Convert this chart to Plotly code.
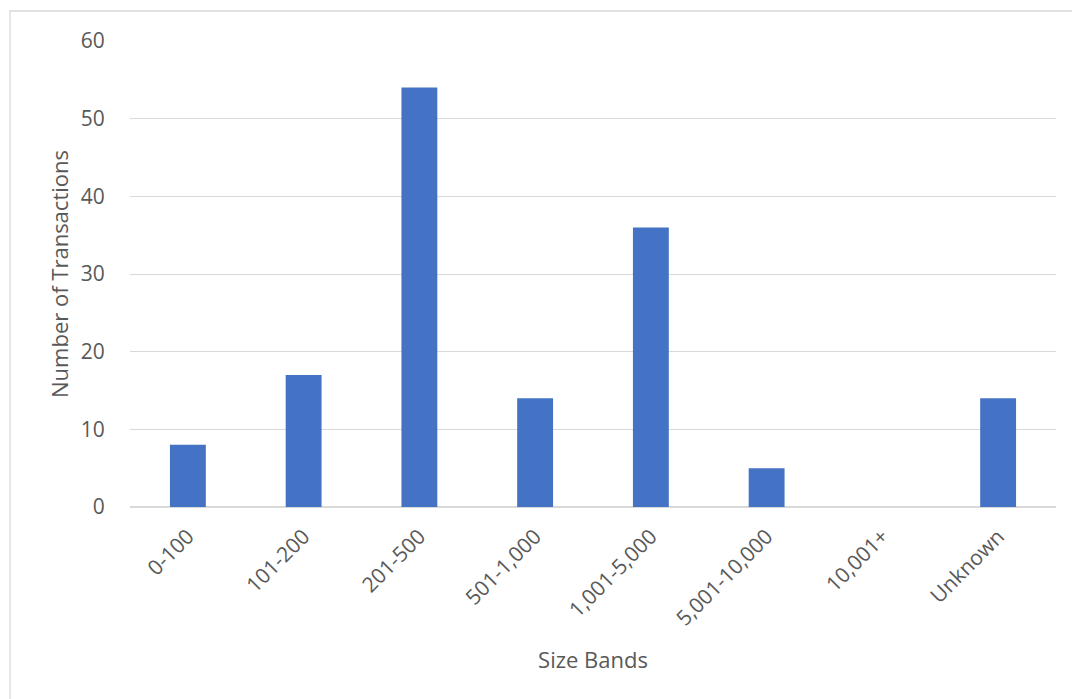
import plotly.graph_objects as go

# Transaction counts by size band
size_bands = ["0-100", "101-200", "201-500", "501-1,000", "1,001-5,000",
              "5,001-10,000", "10,001+", "Unknown"]
transactions = [8, 17, 54, 14, 36, 5, 0, 14]
y_ticks = [0, 10, 20, 30, 40, 50, 60]

W, H = 1072, 699
L, R, T, B = 130, 16, 41, 192
pw, ph = W - L - R, H - T - B

font_family = "Open Sans, Noto Sans, sans-serif"
text_color = "#595959"
grid_color = "#D9D9D9"

fig = go.Figure(go.Bar(
    x=size_bands,
    y=transactions,
    marker=dict(color="#4472C4", line=dict(width=0)),
    width=0.31,
))

# Chart frame (its right and bottom sides fall outside the page)
def px_x(p):
    return (p - L) / pw

def px_y(p):
    return (H - B - p) / ph

fig.add_shape(type="rect", xref="paper", yref="paper",
              x0=px_x(10), x1=px_x(1090), y0=px_y(720), y1=px_y(11),
              line=dict(color="#D9D9D9", width=1.3), fillcolor="rgba(0,0,0,0)",
              layer="below")

fig.update_layout(
    width=W, height=H,
    margin=dict(l=L, r=R, t=T, b=B, pad=0),
    paper_bgcolor="white", plot_bgcolor="white",
    font=dict(family=font_family, size=21, color=text_color),
    showlegend=False,
    bargap=0.69,
    xaxis=dict(
        title=dict(text="Size Bands", font=dict(size=22, color=text_color), standoff=22),
        tickangle=-45,
        tickfont=dict(size=21, color=text_color),
        showgrid=False, zeroline=False, showline=False,
        ticks="outside", ticklen=8, tickcolor="rgba(0,0,0,0)",
    ),
    yaxis=dict(
        title=dict(text="Number of Transactions", font=dict(size=22, color=text_color), standoff=6),
        range=[0, 60],
        tickvals=y_ticks,
        tickfont=dict(size=21, color=text_color),
        showgrid=True, gridcolor=grid_color, gridwidth=1.3,
        zeroline=True, zerolinecolor=grid_color, zerolinewidth=1.5,
        showline=False,
        ticks="outside", ticklen=20, tickcolor="rgba(0,0,0,0)",
    ),
)

fig.write_html("out.html")
